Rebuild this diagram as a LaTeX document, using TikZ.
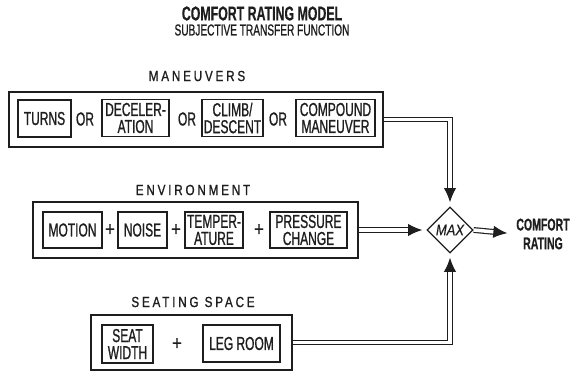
\documentclass[tikz,border=0pt]{standalone}
\usepackage{fontspec}
\usetikzlibrary{arrows.meta,shapes.geometric}
\newfontfamily\letterfont{Liberation Sans}[FakeStretch=0.64,FakeBold=0.9]
\newfontfamily\titlefont{Liberation Sans}[FakeStretch=0.62,FakeBold=0.5]
\newfontfamily\plainfont{Liberation Sans}[FakeStretch=0.85,FakeBold=0.6]
\newfontfamily\headfont{Liberation Sans}[FakeStretch=0.8,FakeBold=1.1,LetterSpace=19]
\definecolor{ink}{HTML}{1E1E1E}
\newcommand\pix{0.03cm}

\begin{document}
\begin{tikzpicture}[x=0.03cm,y=-0.03cm,line join=miter,
  item/.style={draw=ink,line width=1.1pt,inner sep=0pt,align=center,text=ink,
    font=\letterfont\fontsize{16}{14.5}\selectfont,minimum height=37*\pix},
  group/.style={draw=ink,line width=0.9pt,minimum height=55*\pix},
  conj/.style={text=ink,font=\letterfont\fontsize{16}{17}\selectfont},
  plus/.style={text=ink,font=\plainfont\fontsize{17}{18}\selectfont},
  head/.style={text=ink,font=\headfont\fontsize{12.5}{14}\selectfont},
  feed/.style={draw=ink,double,line width=1pt,double distance=3pt,
    -{Latex[length=12pt,width=10.5pt]}}]
  \useasboundingbox (0,0) rectangle (580,373);
  \node[inner sep=0pt,text=ink,font=\titlefont\bfseries\fontsize{17}{18}\selectfont] (title) at (262,13.5) {COMFORT RATING MODEL};
  \node[inner sep=0pt,text=ink,font=\letterfont\fontsize{13.5}{14}\selectfont] (subtitle) at (262,30) {SUBJECTIVE TRANSFER FUNCTION};

  % maneuvers
  \node[head] (mnvlabel) at (197,76) {MANEUVERS};
  \node[group,minimum width=374*\pix] (mnv) at (196,119.5) {};
  \node[item,minimum width=53*\pix] (turns) at (44.5,118.5) {TURNS};
  \node[item,minimum width=67*\pix] (decel) at (135.5,118) {DECELER-\\ATION};
  \node[item,minimum width=61*\pix] (climb) at (232.5,118) {CLIMB/\\DESCENT};
  \node[item,minimum width=79*\pix] (compound) at (335.5,118) {COMPOUND\\MANEUVER};
  \foreach \x/\n in {85/or1,187/or2,278/or3}
    \node[conj] (\n) at (\x,119) {OR};

  % environment
  \node[head] (envlabel) at (193,190) {ENVIRONMENT};
  \node[group,minimum width=325*\pix,minimum height=56*\pix] (env) at (195.5,230) {};
  \node[item,minimum width=59*\pix,minimum height=36*\pix] (motion) at (72.5,230) {MOTION};
  \node[item,minimum width=49*\pix,minimum height=36*\pix] (noise) at (142.5,230) {NOISE};
  \node[item,minimum width=58*\pix,minimum height=36*\pix] (temper) at (214,230) {TEMPER-\\ATURE};
  \node[item,minimum width=77*\pix,minimum height=36*\pix] (pressure) at (308.5,230) {PRESSURE\\CHANGE};
  \foreach \x/\n in {110/plus1,176/plus2,259/plus3}
    \node[plus] (\n) at (\x,230) {+};

  % seating space
  \node[head] (seatlabel) at (193,302) {SEATING SPACE};
  \node[group,minimum width=201*\pix] (seat) at (191.5,342.5) {};
  \node[item,minimum width=51*\pix,minimum height=38*\pix] (seatwidth) at (127.5,344) {SEAT\\WIDTH};
  \node[item,minimum width=77*\pix] (legroom) at (241.5,343.5) {LEG ROOM};
  \node[plus] (plus4) at (177,344) {+};

  % max and output
  \node[draw=ink,line width=1.1pt,diamond,inner sep=0pt,minimum width=46*\pix,minimum height=46*\pix,
    text=ink,font=\plainfont\itshape\fontsize{13}{14}\selectfont] (max) at (450,230) {MAX};
  \node[inner sep=0pt,align=center,text=ink,font=\titlefont\bfseries\fontsize{14.5}{16}\selectfont] (out) at (543,234) {COMFORT\\RATING};

  \draw[feed,shorten >=3.5pt] (mnv.east) -| (max.north);
  \draw[feed,shorten >=3.5pt] (env.east) -- (max.west);
  \draw[feed,shorten >=3.5pt] (seat.east) -| (max.south);
  \draw[feed,shorten >=7.5pt] (max.east) -- (out.west);
\end{tikzpicture}
\end{document}
